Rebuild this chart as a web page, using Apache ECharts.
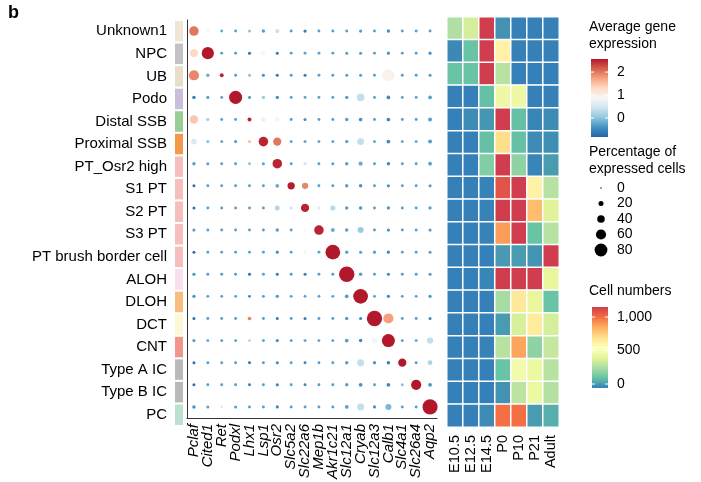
<!DOCTYPE html>
<html>
<head>
<meta charset="utf-8">
<script src="https://cdn.jsdelivr.net/npm/echarts@6/dist/echarts.min.js"></script>
<style>
  html, body { margin: 0; padding: 0; background: #fff; }
  #chart { width: 701px; height: 482px; }
</style>
</head>
<body>
<div id="chart"></div>
<script>
// cell types (rows, top to bottom) and their annotation colour
var cellTypes = ['Unknown1', 'NPC', 'UB', 'Podo', 'Distal SSB', 'Proximal SSB', 'PT_Osr2 high',
  'S1 PT', 'S2 PT', 'S3 PT', 'PT brush border cell', 'ALOH', 'DLOH', 'DCT', 'CNT',
  'Type A IC', 'Type B IC', 'PC']
var annotColors = ['#eddfcb', '#b3b3b3', '#e2d6bd', '#bcaed5', '#80c07c', '#f07f21', '#f2afab',
  '#f2afab', '#f2afab', '#f2afab', '#f2afab', '#f7d6e6', '#f6ad60', '#fbf6cb', '#ee7c6f',
  '#a8a8ab', '#a8a8ab', '#abdac3']

var genes = ['Pclaf', 'Cited1', 'Ret', 'Podxl', 'Lhx1', 'Lsp1', 'Osr2', 'Slc5a2', 'Slc22a6',
  'Mep1b', 'Akr1c21', 'Slc12a1', 'Cryab', 'Slc12a3', 'Calb1', 'Slc4a1', 'Slc26a4', 'Aqp2']

// average gene expression, one row per cell type, one value per gene
var avgExpr = [
  [2.0, 0.85, -0.2, -0.3, 0.0, -0.3, 0.4, -0.3, -0.6, -0.3, -0.3, -0.3, -0.3, -0.3, -0.4, -0.3, -0.3, -0.3],
  [1.3, 2.6, -0.3, -0.3, -0.7, 0.85, -0.6, -0.3, -0.3, -0.3, -0.3, -0.3, -0.3, -0.3, -0.4, -0.3, -0.3, -0.4],
  [1.9, -0.2, 2.5, -0.3, 0.0, -0.4, -0.6, -0.3, -0.6, -0.3, -0.3, -0.3, -0.3, -0.3, 0.95, -0.3, -0.3, -0.3],
  [-0.6, -0.3, -0.3, 2.6, -0.3, 0.1, -0.4, -0.3, -0.3, -0.3, -0.3, -0.3, 0.35, -0.3, -0.5, -0.3, -0.3, -0.3],
  [1.45, 0.1, -0.3, -0.3, 2.5, 1.05, 0.9, -0.3, -0.4, -0.3, -0.3, -0.3, -0.4, -0.3, -0.5, -0.3, -0.3, -0.3],
  [0.55, 0.0, -0.3, -0.3, 1.5, 2.5, 2.0, -0.3, -0.3, -0.3, -0.3, -0.3, 0.35, -0.3, -0.5, -0.3, -0.3, -0.3],
  [-0.3, -0.3, -0.3, -0.3, 0.0, -0.3, 2.5, -0.3, 0.5, -0.3, -0.3, -0.3, -0.2, -0.3, -0.5, -0.3, -0.3, -0.3],
  [-0.7, -0.3, -0.3, -0.3, -0.3, -0.3, -0.2, 2.55, 1.9, -0.3, -0.3, -0.3, -0.4, -0.3, -0.4, -0.3, -0.3, -0.3],
  [-0.7, -0.3, -0.3, -0.3, -0.3, -0.3, 0.25, 0.4, 2.5, 0.6, 0.25, -0.3, -0.4, -0.3, -0.4, -0.3, -0.3, -0.3],
  [-0.3, -0.3, -0.3, -0.3, -0.3, -0.3, -0.3, -0.3, 0.9, 2.5, -0.2, -0.3, 0.1, -0.3, -0.4, -0.3, -0.3, -0.3],
  [-0.7, -0.3, -0.3, -0.3, -0.3, -0.3, -0.4, -0.3, 0.9, -0.3, 2.6, -0.3, -0.3, -0.3, -0.5, -0.3, -0.3, -0.3],
  [-0.4, -0.3, -0.3, -0.3, -0.7, -0.3, -0.6, -0.3, -0.6, -0.3, -0.3, 2.6, -0.3, -0.3, -0.5, -0.3, -0.3, -0.3],
  [-0.4, -0.3, -0.3, -0.3, -0.5, -0.3, -0.3, -0.3, -0.3, -0.3, -0.3, -0.3, 2.6, -0.3, -0.5, -0.3, -0.3, -0.4],
  [-0.7, -0.3, -0.3, -0.3, 1.9, -0.3, -0.6, -0.3, -0.6, -0.3, -0.3, -0.3, -0.5, 2.6, 1.75, -0.3, -0.3, -0.5],
  [-0.3, -0.3, -0.3, -0.3, 0.3, -0.3, -0.4, -0.3, -0.3, -0.3, -0.3, -0.3, -0.5, 0.85, 2.6, -0.3, -0.3, 0.35],
  [-0.7, -0.3, -0.3, -0.3, -0.7, -0.3, -0.5, -0.3, -0.5, -0.3, -0.3, -0.3, 0.35, -0.4, -0.6, 2.6, -0.3, 0.2],
  [-0.7, -0.3, -0.3, -0.3, -0.6, -0.3, -0.5, -0.3, -0.5, -0.3, -0.3, -0.3, -0.4, -0.3, -0.5, 0.0, 2.6, -0.4],
  [-0.4, -0.3, 0.6, -0.3, -0.3, -0.3, -0.5, -0.3, -0.3, -0.3, -0.3, -0.3, 0.35, -0.4, -0.1, -0.3, -0.3, 2.6]
]

// percentage of expressed cells, same layout
var pctExpr = [
  [55, 12, 4, 4, 5, 8, 14, 4, 6, 4, 4, 4, 6, 4, 8, 4, 4, 4],
  [45, 75, 4, 4, 5, 18, 5, 4, 4, 4, 4, 5, 5, 4, 6, 4, 4, 6],
  [60, 8, 12, 4, 5, 6, 6, 4, 5, 4, 4, 5, 5, 4, 75, 4, 4, 6],
  [8, 5, 4, 82, 5, 8, 8, 4, 4, 4, 4, 8, 40, 4, 10, 4, 4, 10],
  [45, 6, 4, 4, 12, 15, 15, 4, 5, 4, 4, 8, 10, 4, 10, 4, 4, 12],
  [25, 6, 4, 6, 6, 55, 45, 4, 4, 4, 4, 8, 35, 4, 10, 4, 4, 12],
  [8, 5, 4, 4, 4, 5, 55, 4, 6, 4, 5, 8, 14, 4, 8, 4, 4, 10],
  [5, 4, 4, 4, 4, 4, 10, 38, 30, 4, 4, 8, 8, 4, 6, 4, 4, 6],
  [5, 4, 4, 4, 4, 4, 20, 5, 45, 6, 20, 8, 8, 4, 6, 4, 4, 6],
  [6, 4, 4, 4, 4, 4, 8, 4, 6, 55, 12, 8, 28, 4, 6, 4, 4, 6],
  [5, 4, 4, 4, 4, 4, 6, 4, 6, 4, 95, 8, 5, 6, 6, 4, 4, 5],
  [6, 4, 4, 4, 5, 4, 5, 4, 5, 4, 4, 100, 8, 4, 6, 4, 4, 6],
  [6, 4, 4, 4, 4, 4, 8, 4, 4, 4, 4, 10, 95, 4, 6, 4, 4, 5],
  [5, 4, 4, 4, 10, 4, 5, 4, 5, 4, 4, 8, 6, 100, 60, 4, 4, 5],
  [6, 4, 4, 4, 5, 4, 6, 4, 4, 4, 4, 10, 8, 25, 82, 4, 4, 30],
  [5, 4, 4, 4, 4, 4, 5, 4, 4, 4, 4, 8, 35, 6, 8, 45, 4, 18],
  [5, 4, 4, 4, 4, 4, 6, 4, 4, 4, 4, 8, 10, 4, 10, 5, 60, 10],
  [8, 5, 4, 5, 4, 4, 6, 4, 4, 4, 4, 10, 35, 6, 28, 4, 4, 98]
]

var stages = ['E10.5', 'E12.5', 'E14.5', 'P0', 'P10', 'P21', 'Adult']
// cell numbers per stage
var cellNumbers = [
  [300, 390, 1150, 40, 0, 0, 0],
  [20, 150, 1150, 640, 0, 0, 0],
  [150, 150, 1150, 320, 0, 0, 0],
  [0, 0, 140, 480, 480, 0, 0],
  [0, 25, 50, 1150, 140, 10, 25],
  [0, 0, 140, 720, 140, 25, 30],
  [0, 0, 200, 1150, 230, 10, 60],
  [0, 0, 5, 1080, 1150, 640, 320],
  [0, 0, 5, 1150, 1150, 820, 420],
  [0, 0, 5, 900, 1150, 150, 320],
  [0, 0, 0, 55, 60, 45, 1150],
  [0, 0, 10, 1150, 1150, 1150, 450],
  [0, 0, 0, 280, 680, 450, 150],
  [0, 0, 0, 60, 400, 670, 390],
  [0, 0, 5, 320, 880, 230, 350],
  [0, 0, 0, 150, 500, 470, 320],
  [0, 0, 0, 40, 330, 470, 310],
  [0, 0, 25, 1000, 1000, 60, 100]
]

var exprTicks = [2, 1, 0]
var pctTicks = [0, 20, 40, 60, 80]
var cellTicks = [1000, 500, 0]

var font = '"Liberation Sans", Arial, Helvetica, sans-serif'
var rdbu = ['#2166ac', '#4393c3', '#92c5de', '#d1e5f0', '#f7f7f7', '#fddbc7', '#f4a582', '#d6604d', '#b2182b']
var spectral = ['#3580b8', '#66c2a5', '#abdda4', '#e6f598', '#ffffbf', '#fee08b', '#fdae61', '#f46d43', '#cf3d4e']
var exprMin = -0.83, exprMax = 2.57
var cellMin = 0, cellMax = 1150

function dotSize (pct) {
  return 2.4 + 0.13 * pct
}

var annotData = cellTypes.map(function (c, i) {
  return { value: [0, i], itemStyle: { color: annotColors[i] } }
})
var dotData = []
avgExpr.forEach(function (row, r) {
  row.forEach(function (v, g) {
    dotData.push([g, r, v, pctExpr[r][g]])
  })
})
var heatData = []
cellNumbers.forEach(function (row, r) {
  row.forEach(function (v, s) {
    heatData.push([s, r, v])
  })
})

function gradStops (colors) {
  // top of the bar is the high end
  return colors.slice().reverse().map(function (c, i, a) {
    return { offset: i / (a.length - 1), color: c }
  })
}

// legends drawn as graphics
var graphics = [
  { type: 'text', left: 8, top: 4, style: { text: 'b', font: 'bold 18px ' + font, fill: '#000' } },
  { type: 'text', left: 589, top: 19, style: { text: 'Average gene\nexpression', font: '14px ' + font, lineHeight: 17, fill: '#000' } },
  { type: 'rect', shape: { x: 591, y: 59, width: 17, height: 78 },
    style: { fill: new echarts.graphic.LinearGradient(0, 0, 0, 1, gradStops(rdbu)) } },
  { type: 'text', left: 589, top: 144, style: { text: 'Percentage of\nexpressed cells', font: '14px ' + font, lineHeight: 17, fill: '#000' } },
  { type: 'text', left: 589, top: 284, style: { text: 'Cell numbers', font: '14px ' + font, fill: '#000' } },
  { type: 'rect', shape: { x: 592, y: 307, width: 16, height: 81 },
    style: { fill: new echarts.graphic.LinearGradient(0, 0, 0, 1, gradStops(spectral)) } }
]
exprTicks.forEach(function (v) {
  var y = 59 + (exprMax - v) / (exprMax - exprMin) * 78
  graphics.push({ type: 'line', shape: { x1: 591, y1: y, x2: 594, y2: y }, style: { stroke: '#fff', lineWidth: 1 } })
  graphics.push({ type: 'line', shape: { x1: 605, y1: y, x2: 608, y2: y }, style: { stroke: '#fff', lineWidth: 1 } })
  graphics.push({ type: 'text', x: 617, y: y, style: { text: String(v), font: '14px ' + font, fill: '#000', verticalAlign: 'middle' } })
})
pctTicks.forEach(function (v, i) {
  var y = 188 + i * 15.5
  graphics.push({ type: 'circle', shape: { cx: 601, cy: y, r: dotSize(v) / 2 - (v === 0 ? 0.5 : 0) }, style: { fill: '#000' } })
  graphics.push({ type: 'text', x: 617, y: y, style: { text: String(v), font: '14px ' + font, fill: '#000', verticalAlign: 'middle' } })
})
cellTicks.forEach(function (v) {
  var y = 307 + (cellMax - v) / (cellMax - cellMin) * 77
  graphics.push({ type: 'line', shape: { x1: 592, y1: y, x2: 595, y2: y }, style: { stroke: '#fff', lineWidth: 1 } })
  graphics.push({ type: 'line', shape: { x1: 605, y1: y, x2: 608, y2: y }, style: { stroke: '#fff', lineWidth: 1 } })
  graphics.push({ type: 'text', x: 617, y: y, style: { text: v.toLocaleString('en-US'), font: '14px ' + font, fill: '#000', verticalAlign: 'middle' } })
})

var chart = echarts.init(document.getElementById('chart'))
chart.setOption({
  animation: false,
  textStyle: { fontFamily: font },
  grid: [
    { left: 175, width: 8, top: 20, height: 406 },
    { left: 187, width: 250, top: 20, height: 407 },
    { left: 447, width: 112, top: 17, height: 410 }
  ],
  xAxis: [
    { gridIndex: 0, type: 'category', data: ['a'], show: false },
    { gridIndex: 1, type: 'category', data: genes,
      axisLine: { lineStyle: { color: '#333', width: 1 } },
      axisTick: { alignWithLabel: true, length: 4, lineStyle: { color: '#333' } },
      axisLabel: { rotate: 90, interval: 0, margin: 6, fontSize: 15, fontStyle: 'italic', color: '#000', fontFamily: font } },
    { gridIndex: 2, type: 'category', data: stages,
      axisLine: { show: false }, axisTick: { show: false },
      axisLabel: { rotate: 90, interval: 0, margin: 8, fontSize: 14.5, color: '#000', fontFamily: font } }
  ],
  yAxis: [
    { gridIndex: 0, type: 'category', data: cellTypes, inverse: true,
      axisLine: { show: false }, axisTick: { show: false },
      axisLabel: { margin: 8, fontSize: 15, color: '#000', fontFamily: font } },
    { gridIndex: 1, type: 'category', data: cellTypes, inverse: true,
      axisLine: { lineStyle: { color: '#333', width: 1 } }, axisTick: { show: false }, axisLabel: { show: false } },
    { gridIndex: 2, type: 'category', data: cellTypes, inverse: true, show: false }
  ],
  visualMap: [
    { type: 'continuous', show: false, seriesIndex: 1, dimension: 2, min: exprMin, max: exprMax, inRange: { color: rdbu } },
    { type: 'continuous', show: false, seriesIndex: 2, dimension: 2, min: cellMin, max: cellMax, inRange: { color: spectral } }
  ],
  series: [
    { type: 'scatter', xAxisIndex: 0, yAxisIndex: 0, symbol: 'rect', symbolSize: [8, 20.5], data: annotData },
    { type: 'scatter', xAxisIndex: 1, yAxisIndex: 1, data: dotData,
      symbolSize: function (d) { return dotSize(d[3]) },
      itemStyle: { opacity: 1 } },
    { type: 'heatmap', xAxisIndex: 2, yAxisIndex: 2, data: heatData,
      itemStyle: { borderColor: '#fff', borderWidth: 1.5 } }
  ],
  graphic: graphics
})
</script>
</body>
</html>
